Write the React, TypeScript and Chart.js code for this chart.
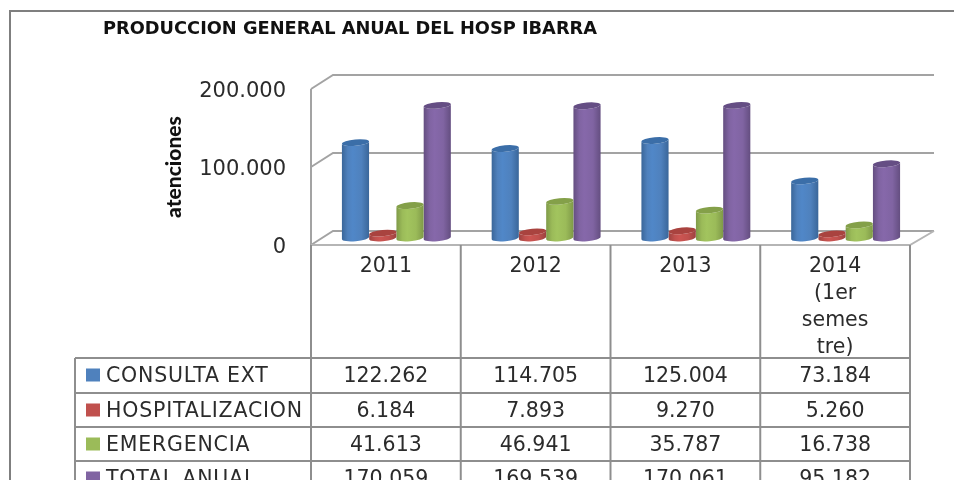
import React, { useEffect, useRef } from "react";
import { Chart, registerables } from "chart.js";

Chart.register(...registerables);

const TITLE = "PRODUCCION GENERAL ANUAL DEL HOSP IBARRA";
const AXIS_TITLE = "atenciones";
const categories: (string | string[])[] = ["2011", "2012", "2013", ["2014", "(1er", "semes", "tre)"]];
const consultaExt = [122262, 114705, 125004, 73184];
const hospitalizacion = [6184, 7893, 9270, 5260];
const emergencia = [41613, 46941, 35787, 16738];
const totalAnual = [170059, 169539, 170061, 95182];
const seriesNames = ["CONSULTA EXT", "HOSPITALIZACION", "EMERGENCIA", "TOTAL ANUAL"];
const seriesValues = [consultaExt, hospitalizacion, emergencia, totalAnual];

const keyColors = ["#4f81bd", "#c0504d", "#9bbb59", "#8064a2"];
const edgeColors = ["#3a6699", "#9c4240", "#7f9a48", "#644e80"];
const lightColors = ["#5087c8", "#cc5552", "#a2c45e", "#8668aa"];
const capColors = ["#3b6ea8", "#a9433f", "#84a049", "#654e84"];

const FONT = '"DejaVu Sans", sans-serif';
const TITLE_FONT = '"DejaVu Sans", sans-serif';
const AXIS_FONT = 'Lato, "Open Sans", sans-serif';
const TEXT = "#2b2b2b";
const LINE = "#8e8e8e";
const WALL = "#a3a3a3";
const DEPTH_X = 22;
const DEPTH_Y = 14;

const fmt = (v: number) => String(v).replace(/\B(?=(\d{3})+(?!\d))/g, ".");

function line(ctx: CanvasRenderingContext2D, pts: number[][], color: string, w = 2) {
  ctx.strokeStyle = color;
  ctx.lineWidth = w;
  ctx.beginPath();
  pts.forEach((p, i) => (i ? ctx.lineTo(p[0], p[1]) : ctx.moveTo(p[0], p[1])));
  ctx.stroke();
}

const cylinderPlugin = {
  id: "cylinders",
  beforeDatasetDraw(chart: any, args: any) {
    const ctx: CanvasRenderingContext2D = chart.ctx;
    const i = args.index;
    const tilt = -0.09;
    ctx.save();
    args.meta.data.forEach((el: any) => {
      const cx = el.x + DEPTH_X / 2 - 0.5;
      const rx = el.width / 2;
      const ry = 3.2;
      const top = el.y - DEPTH_Y / 2;
      const bottom = el.base - DEPTH_Y / 2;
      const g = ctx.createLinearGradient(cx - rx, 0, cx + rx, 0);
      g.addColorStop(0, edgeColors[i]);
      g.addColorStop(0.22, keyColors[i]);
      g.addColorStop(0.4, lightColors[i]);
      g.addColorStop(0.72, keyColors[i]);
      g.addColorStop(1, edgeColors[i]);
      ctx.fillStyle = g;
      ctx.beginPath();
      ctx.ellipse(cx, top, rx, ry, tilt, Math.PI, 0, true);
      ctx.ellipse(cx, bottom, rx, ry, tilt, 0, Math.PI, false);
      ctx.closePath();
      ctx.fill();
      ctx.fillStyle = capColors[i];
      ctx.beginPath();
      ctx.ellipse(cx, top, rx, ry, tilt, 0, Math.PI * 2);
      ctx.fill();
    });
    ctx.restore();
    return false;
  },
};

const framePlugin = {
  id: "frame",
  beforeDatasetsDraw(chart: any) {
    const ctx: CanvasRenderingContext2D = chart.ctx;
    const { left, right, top, bottom } = chart.chartArea;
    const yScale = chart.scales.y;
    ctx.save();
    line(ctx, [[10, 480], [10, 11], [954, 11]], "#7f7f7f");
    line(ctx, [[left, bottom], [left, top]], WALL);
    yScale.ticks.forEach((t: any) => {
      const y = yScale.getPixelForValue(t.value);
      line(ctx, [[left, y], [left + DEPTH_X, y - DEPTH_Y], [right + DEPTH_X + 2, y - DEPTH_Y]], WALL);
    });
    line(ctx, [[left, bottom], [right, bottom], [right + DEPTH_X + 2, bottom - DEPTH_Y]], "#b5b5b5");
    ctx.restore();
  },
  afterDraw(chart: any) {
    const ctx: CanvasRenderingContext2D = chart.ctx;
    const { left, right, bottom } = chart.chartArea;
    const xScale = chart.scales.x;
    const rowLines = [358, 393, 427, 461, 496];
    const rowCenters = [377, 412, 446, 480];
    const keyCenters = [375, 410, 444, 478];
    const tableLeft = 75;
    const step = (right - left) / categories.length;
    ctx.save();
    for (let c = 0; c <= categories.length; c++) {
      const x = c < categories.length ? xScale.getPixelForValue(c) - step / 2 : right;
      line(ctx, [[x, bottom], [x, 480]], LINE);
    }
    line(ctx, [[tableLeft, rowLines[0]], [tableLeft, 480]], LINE);
    rowLines.forEach((y) => line(ctx, [[tableLeft, y], [right, y]], LINE));
    ctx.font = `20.5px ${FONT}`;
    ctx.fillStyle = TEXT;
    ctx.textBaseline = "middle";
    seriesNames.forEach((name, r) => {
      const y = rowCenters[r];
      ctx.fillStyle = keyColors[r];
      ctx.fillRect(86, keyCenters[r] - 6.5, 14, 13);
      ctx.fillStyle = TEXT;
      ctx.textAlign = "left";
      (ctx as any).letterSpacing = "0.8px";
      ctx.fillText(name, 106, y);
      (ctx as any).letterSpacing = "0px";
      ctx.textAlign = "center";
      seriesValues[r].forEach((v, c) => ctx.fillText(fmt(v), xScale.getPixelForValue(c), y));
    });
    ctx.restore();
  },
};

export default function App() {
  const ref = useRef<HTMLCanvasElement | null>(null);
  useEffect(() => {
    document.body.style.margin = "0";
    document.body.style.overflow = "hidden";
    const chart = new Chart(ref.current as HTMLCanvasElement, {
      type: "bar",
      data: {
        labels: categories as any,
        datasets: seriesNames.map((name, i) => ({
          label: name,
          data: seriesValues[i],
          backgroundColor: keyColors[i],
          categoryPercentage: 0.728,
          barPercentage: 1,
        })),
      },
      options: {
        animation: false,
        responsive: false,
        layout: { padding: { left: 103, top: 18.5, right: 44, bottom: 0 } },
        plugins: {
          legend: { display: false },
          tooltip: { enabled: false },
          title: {
            display: true,
            text: TITLE,
            align: "start",
            color: "#111111",
            font: { family: TITLE_FONT, size: 17.8, weight: "bold", lineHeight: 1.2 },
            padding: { top: 0, bottom: 49.14 },
          },
        },
        scales: {
          x: {
            grid: { display: false },
            border: { display: false },
            afterFit(s: any) {
              s.height = 235;
            },
            ticks: {
              color: TEXT,
              maxRotation: 0,
              autoSkip: false,
              padding: 0,
              font: { family: FONT, size: 20.5, lineHeight: 1.32 },
            },
          },
          y: {
            min: 0,
            max: 200000,
            grid: { display: false, drawTicks: false },
            border: { display: false },
            afterFit(s: any) {
              s.width = 208;
            },
            title: {
              display: true,
              text: AXIS_TITLE,
              color: "#111111",
              font: { family: AXIS_FONT, size: 21, weight: 900, lineHeight: 1.2 },
              padding: { top: 59, bottom: 0 },
            },
            ticks: {
              stepSize: 100000,
              color: TEXT,
              padding: 25,
              labelOffset: 2.5,
              font: { family: FONT, size: 21 },
              callback: (v: any) => fmt(Number(v)),
            },
          },
        },
      },
      plugins: [framePlugin, cylinderPlugin],
    } as any);
    return () => chart.destroy();
  }, []);
  return (
    <div style={{ position: "absolute", left: 0, top: 0, width: 954, height: 480, background: "#fff", overflow: "hidden" }}>
      <canvas ref={ref} width={954} height={480} style={{ display: "block", filter: "blur(0.6px)" }} />
    </div>
  );
}
